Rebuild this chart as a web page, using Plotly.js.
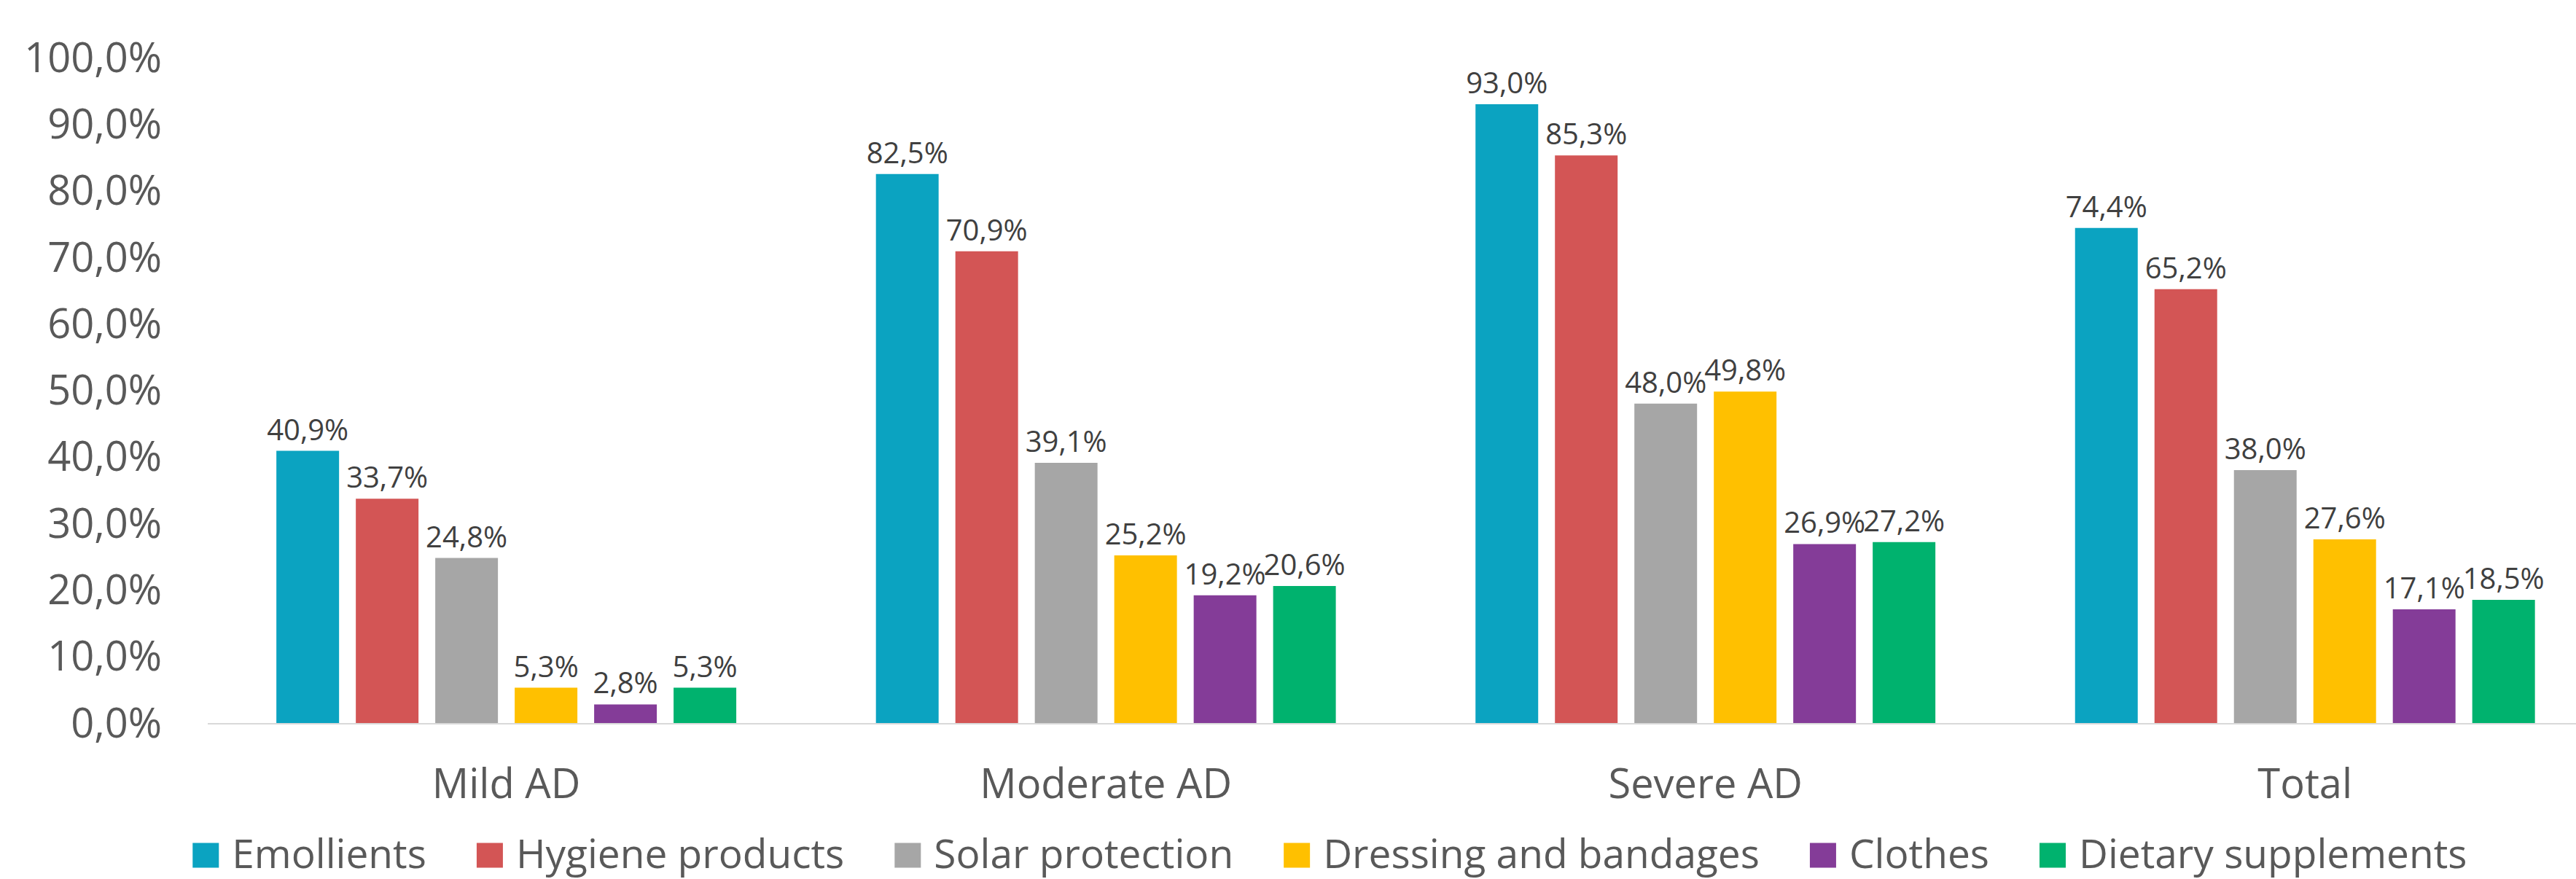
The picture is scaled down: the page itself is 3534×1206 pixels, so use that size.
<!DOCTYPE html>
<html>
<head>
<meta charset="utf-8">
<script src="https://cdn.plot.ly/plotly-3.0.1.min.js"></script>
<style>html,body{margin:0;padding:0;background:#fff;}#chart{width:3534px;height:1206px;}</style>
</head>
<body>
<div id="chart"></div>
<script>
const categories = ["Mild AD", "Moderate AD", "Severe AD", "Total"];
const seriesNames = ["Emollients", "Hygiene products", "Solar protection", "Dressing and bandages", "Clothes", "Dietary supplements"];
const emollients = [40.9, 82.5, 93.0, 74.4];
const hygieneProducts = [33.7, 70.9, 85.3, 65.2];
const solarProtection = [24.8, 39.1, 48.0, 38.0];
const dressingBandages = [5.3, 25.2, 49.8, 27.6];
const clothes = [2.8, 19.2, 26.9, 17.1];
const dietarySupplements = [5.3, 20.6, 27.2, 18.5];
const yTicks = [0, 10, 20, 30, 40, 50, 60, 70, 80, 90, 100];

const seriesValues = [emollients, hygieneProducts, solarProtection, dressingBandages, clothes, dietarySupplements];
const colors = ["#0BA3C1", "#D35555", "#A6A6A6", "#FFC000", "#843C98", "#00B26E"];
const fmt = v => v.toFixed(1).replace('.', ',') + '%';

const traces = seriesValues.map((vals, i) => ({
  type: 'bar',
  name: seriesNames[i],
  x: categories,
  y: vals,
  text: vals.map(fmt),
  textposition: 'outside',
  textfont: {family: 'Open Sans, sans-serif', size: 40, color: '#404040'},
  constraintext: 'none',
  cliponaxis: false,
  marker: {color: colors[i], line: {width: 0}},
  hoverinfo: 'none'
}));

const layout = {
  width: 3534,
  height: 1206,
  margin: {l: 285, r: 0, t: 79, b: 214},
  paper_bgcolor: '#ffffff',
  plot_bgcolor: '#ffffff',
  barmode: 'group',
  bargap: 0.205,
  bargroupgap: 0.211,
  font: {family: 'Open Sans, sans-serif', color: '#595959'},
  xaxis: {
    type: 'category',
    range: [-0.498, 3.452],
    showgrid: false,
    showline: true,
    linecolor: '#D9D9D9',
    linewidth: 2,
    ticks: '',
    tickfont: {size: 56, color: '#595959'},
    ticklabelstandoff: 34,
    zeroline: false,
    automargin: false
  },
  yaxis: {
    range: [0, 100],
    tickvals: yTicks,
    ticktext: yTicks.map(v => v.toFixed(1).replace('.', ',') + '%'),
    showgrid: false,
    zeroline: false,
    showline: false,
    ticks: '',
    tickfont: {size: 56, color: '#595959'},
    ticklabelstandoff: 62,
    automargin: false
  },
  showlegend: true,
  legend: {
    orientation: 'h',
    xref: 'container',
    yref: 'container',
    x: 0.508,
    xanchor: 'center',
    y: 0.03,
    yanchor: 'middle',
    font: {size: 55, color: '#595959'},
    itemwidth: 108,
    traceorder: 'normal',
    tracegroupgap: 0
  }
};

Plotly.newPlot('chart', traces, layout, {staticPlot: true, displayModeBar: false}).then(gd => {
  gd.querySelectorAll('.legend g.traces').forEach(item => {
    const txt = item.querySelector('text.legendtext');
    const path = item.querySelector('.legendpoints path');
    if (!txt || !path) return;
    path.setAttribute('d', 'M18,17H-18V-17H18Z');
    const tr = txt.getBoundingClientRect();
    const pr = path.getBoundingClientRect();
    const dx = (tr.left - 18 - 18) - (pr.left + pr.right) / 2;
    const dy = (tr.top + tr.bottom) / 2 + 4 - (pr.top + pr.bottom) / 2;
    path.setAttribute('d', `M${18 + dx},${17 + dy}H${-18 + dx}V${-17 + dy}H${18 + dx}Z`);
  });
});
</script>
</body>
</html>
